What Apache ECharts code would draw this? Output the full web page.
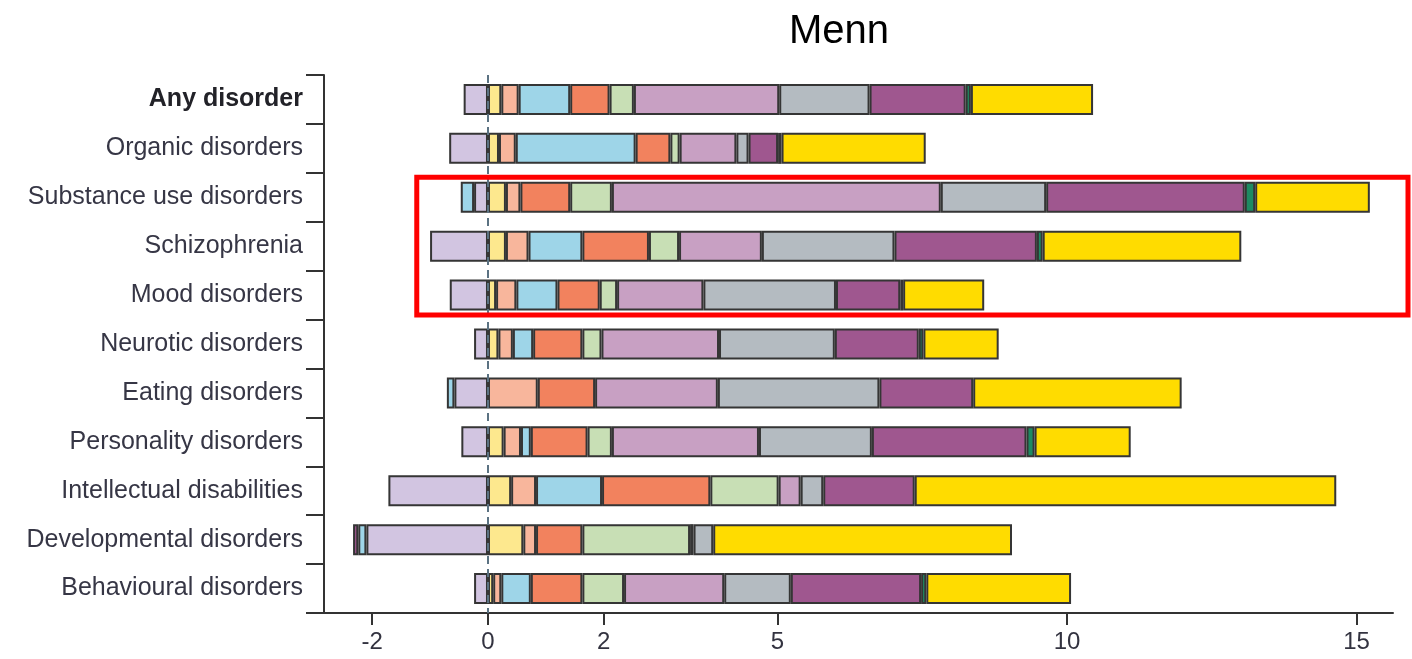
<!DOCTYPE html>
<html>
<head>
<meta charset="utf-8">
<script src="https://cdn.jsdelivr.net/npm/echarts@6/dist/echarts.min.js"></script>
<style>
  html, body { margin: 0; padding: 0; background: #ffffff; }
  #chart { width: 1412px; height: 659px; }
</style>
</head>
<body>
<div id="chart"></div>
<script>
// Disorder groups, top to bottom
const categories = [
  'Any disorder', 'Organic disorders', 'Substance use disorders', 'Schizophrenia',
  'Mood disorders', 'Neurotic disorders', 'Eating disorders', 'Personality disorders',
  'Intellectual disabilities', 'Developmental disorders', 'Behavioural disorders'
];
const xTicks = [-2, 0, 2, 5, 10, 15];

// Stacked contributions per group (same order as categories); negatives stack leftwards from 0
const lavender   = [-0.42, -0.67, -0.24, -1.00, -0.66, -0.24, -0.58, -0.46, -1.72, -2.10, -0.24];
const paleYellow = [ 0.23,  0.19,  0.31,  0.31,  0.14,  0.18,  0,     0.27,  0.40,  0.61,  0.09];
const peach      = [ 0.30,  0.29,  0.25,  0.39,  0.35,  0.25,  0.86,  0.30,  0.43,  0.22,  0.14];
const skyBlue    = [ 0.89,  2.07, -0.23,  0.93,  0.71,  0.35, -0.13,  0.17,  1.14, -0.14,  0.51];
const coral      = [ 0.68,  0.60,  0.86,  1.15,  0.73,  0.85,  0.99,  0.98,  1.87,  0.80,  0.89];
const sage       = [ 0.42,  0.16,  0.72,  0.52,  0.30,  0.33,  0,     0.42,  1.18,  1.86,  0.72];
const mauve      = [ 2.51,  0.98,  5.68,  1.43,  1.49,  2.03,  2.12,  2.54,  0.38,  0.06,  1.73];
const slate      = [ 1.56,  0.21,  1.82,  2.29,  2.29,  2.00,  2.79,  1.95,  0.39,  0.34,  1.15];
const plum       = [ 1.66,  0.51,  3.43,  2.46,  1.11,  1.45,  1.62,  2.67,  1.58, -0.09,  2.25];
const teal       = [ 0.09,  0.06,  0.18,  0.10,  0.05,  0.08,  0,     0.14,  0,     0,     0.09];
const gold       = [ 2.11,  2.49,  1.98,  3.43,  1.40,  1.30,  3.60,  1.66,  7.28,  5.16,  2.50];

const segments = [
  { name: 'lavender',   data: lavender,   color: '#d2c5e1' },
  { name: 'paleYellow', data: paleYellow, color: '#fde88e' },
  { name: 'peach',      data: peach,      color: '#f8b69c' },
  { name: 'skyBlue',    data: skyBlue,    color: '#9ed5e8' },
  { name: 'coral',      data: coral,      color: '#f2825e' },
  { name: 'sage',       data: sage,       color: '#c8dfb5' },
  { name: 'mauve',      data: mauve,      color: '#c8a0c3' },
  { name: 'slate',      data: slate,      color: '#b4bbc1' },
  { name: 'plum',       data: plum,       color: '#9f578f' },
  { name: 'teal',       data: teal,       color: '#1e8a62' },
  { name: 'gold',       data: gold,       color: '#ffdc00' }
];

const labelFont = "'Liberation Sans', Arial, sans-serif";
const axisColor = '#333333';

const series = segments.map((s, i) => {
  const item = {
    type: 'bar',
    name: s.name,
    stack: 'total',
    barWidth: 31,
    data: s.data.map(v => (v === 0 ? '-' : v)),
    itemStyle: { color: s.color, borderColor: '#353535', borderWidth: 2 },
    emphasis: { disabled: true }
  };
  if (i === segments.length - 1) {
    // reference line at zero
    item.markLine = {
      silent: true,
      symbol: ['none', 'none'],
      label: { show: false },
      lineStyle: { type: [8, 5], color: '#5b7282', width: 2 },
      data: [{ xAxis: 0 }]
    };
  }
  return item;
});

const chart = echarts.init(document.getElementById('chart'));
const option = {
  animation: false,
  backgroundColor: '#ffffff',
  title: {
    text: 'Menn',
    left: 834,
    top: 7,
    textAlign: 'center',
    textStyle: { fontSize: 40, fontWeight: 'normal', color: '#000000', fontFamily: labelFont }
  },
  grid: { left: 324, right: 19, top: 75, bottom: 46, outerBoundsMode: 'none' },
  xAxis: {
    type: 'value',
    min: -2.832,
    max: 15.63,
    splitLine: { show: false },
    axisLine: { show: true, onZero: false, lineStyle: { color: axisColor, width: 2 } },
    axisTick: { show: true, length: 12, customValues: xTicks, lineStyle: { color: axisColor, width: 2 } },
    axisLabel: {
      customValues: xTicks,
      margin: 17,
      fontSize: 24,
      color: '#333340',
      fontFamily: "'Liberation Sans Narrow', 'Liberation Sans', Arial, sans-serif"
    }
  },
  yAxis: {
    type: 'category',
    data: categories,
    inverse: true,
    axisLine: { show: true, onZero: false, lineStyle: { color: axisColor, width: 2 } },
    axisTick: { show: true, length: 18, lineStyle: { color: axisColor, width: 2 } },
    axisLabel: {
      margin: 21,
      fontSize: 25,
      color: '#363645',
      fontFamily: labelFont,
      formatter: v => (v === 'Any disorder' ? '{b|' + v + '}' : v),
      rich: { b: { fontSize: 25, fontWeight: 'bold', color: '#222228', fontFamily: labelFont } }
    }
  },
  series: series
};
chart.setOption(option);

// Highlight box around the substance use, schizophrenia and mood rows
const yTop = chart.convertToPixel({ yAxisIndex: 0 }, 'Substance use disorders');
const yBot = chart.convertToPixel({ yAxisIndex: 0 }, 'Mood disorders');
const xLeft = chart.convertToPixel({ xAxisIndex: 0 }, -1.23);
const xRight = chart.getWidth() - 4;
chart.setOption({
  graphic: [{
    type: 'rect',
    z: 100,
    silent: true,
    shape: { x: xLeft, y: yTop - 20, width: xRight - xLeft, height: (yBot - yTop) + 40 },
    style: { fill: 'none', stroke: '#ff0000', lineWidth: 5 }
  }]
});
</script>
</body>
</html>
